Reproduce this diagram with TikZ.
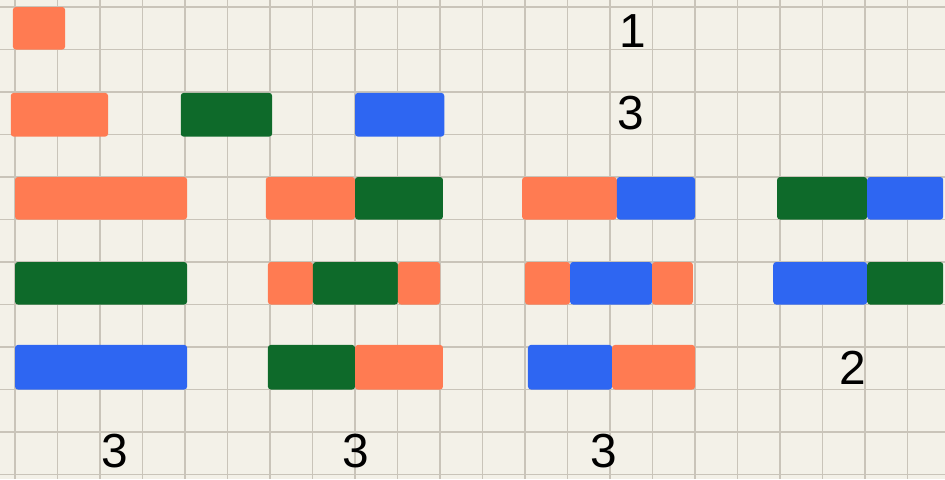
\documentclass[tikz,border=0pt]{standalone}
\usepackage{fontspec}
\setmainfont{Liberation Sans}
\definecolor{paper}{HTML}{F3F1E8}
\definecolor{rule}{HTML}{C9C4B9}
\definecolor{tang}{HTML}{FF7B52}
\definecolor{leaf}{HTML}{0E6A2A}
\definecolor{sky}{HTML}{2E66F2}

\begin{document}
\begin{tikzpicture}[y=-1cm, every node/.style={font=\fontsize{32}{32}\selectfont, inner sep=0pt}, ob/.style={fill=tang, rounded corners=2pt}, gb/.style={fill=leaf, rounded corners=2pt}, bb/.style={fill=sky, rounded corners=2pt}]
	\fill[paper] (-0.353,-0.165) rectangle (21.882,11.106);
	\useasboundingbox (-0.353,-0.165) rectangle (21.882,11.106);
	\draw[rule, line width=0.9pt] (-0.353,-0.165) grid (21.882,11.106);
	% one piece
	\fill[ob] (-0.05,0) rectangle (1.18,1);
	\node (c1) at (14.54,0.56) {1};
	% two pieces
	\fill[ob] (-0.1,2.02) rectangle (2.19,3.05); \fill[gb] (3.9,2.02) rectangle (6.05,3.05); \fill[bb] (8,2.02) rectangle (10.1,3.05);
	\node (c3) at (14.49,2.49) {3};
	% long bars
	\fill[ob] (0,4) rectangle (4.05,5);
	\fill[gb] (0,6) rectangle (4.05,7);
	\fill[bb] (0,7.95) rectangle (4.05,9);
	\node (s1) at (2.35,10.45) {3};
	% orange + green
	\fill[ob] (5.9,4) rectangle (8,5); \fill[gb] (8,4) rectangle (10.07,5);
	\fill[ob] (5.95,6) rectangle (7.01,7); \fill[gb] (7.01,6) rectangle (9.01,7); \fill[ob] (9.01,6) rectangle (10,7);
	\fill[gb] (5.95,7.95) rectangle (8,9); \fill[ob] (8,7.95) rectangle (10.07,9);
	\node (s2) at (8.02,10.45) {3};
	% orange + blue
	\fill[ob] (11.93,4) rectangle (14.16,5); \fill[bb] (14.16,4) rectangle (16,5);
	\fill[ob] (12,6) rectangle (13.06,7); \fill[bb] (13.06,6) rectangle (14.99,7); \fill[ob] (14.99,6) rectangle (15.95,7);
	\fill[bb] (12.07,7.95) rectangle (14.05,9); \fill[ob] (14.05,7.95) rectangle (16,9);
	\node (s3) at (13.86,10.45) {3};
	% green + blue
	\fill[gb] (17.93,4) rectangle (20.05,5); \fill[bb] (20.05,4) rectangle (21.84,5);
	\fill[bb] (17.84,6) rectangle (20.05,7); \fill[gb] (20.05,6) rectangle (21.84,7);
	\node (s4) at (19.72,8.49) {2};
\end{tikzpicture}
\end{document}
